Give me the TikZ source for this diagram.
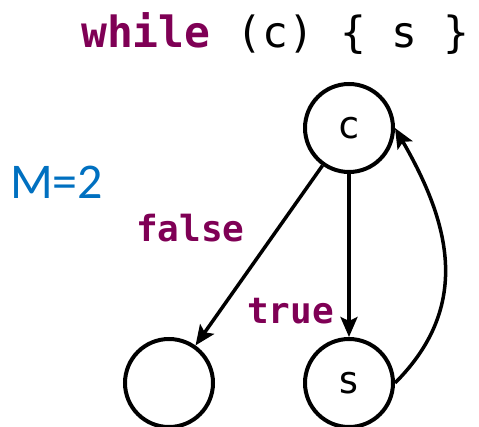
\documentclass[tikz,border=0pt]{standalone}
\usepackage{fontspec}
\setmonofont{DejaVu Sans Mono}
\newfontfamily\calib{Carlito}
\usetikzlibrary{arrows.meta}
\definecolor{kw}{HTML}{7F0055}
\definecolor{mblue}{HTML}{0070C0}
\tikzset{
  state/.style={circle,draw=black,line width=4pt,minimum size=88pt,inner sep=0pt,font=\fontsize{38}{40}\selectfont\ttfamily},
  edge/.style={line width=3.5pt,-{Stealth[length=20pt,width=17pt,inset=4pt]}},
  lbl/.style={inner sep=0pt,anchor=base west,text=kw,font=\fontsize{36}{40}\selectfont\ttfamily\bfseries}
}
\begin{document}
\begin{tikzpicture}[x=1pt,y=-1pt]
\useasboundingbox (0,0) rectangle (479,427);
\node[inner sep=0pt,anchor=base west,font=\fontsize{43}{44}\selectfont\ttfamily] (code) at (81,48) {\textcolor{kw}{\bfseries while} (c) \{ s \}};
\node[inner sep=0pt,anchor=base west,text=mblue,font=\fontsize{50}{54}\selectfont\calib] (m) at (10,199) {M=2};
\node[state] (c) at (349,128) {c};
\node[state] (s) at (349,383) {s};
\node[state] (e) at (169,383) {};
\draw[edge] (c) -- (e);
\draw[edge] (c) -- (s);
\draw[edge] (s.east) to[out=45,in=-60,looseness=1.1] (c.east);
\node[lbl] (f) at (136,242) {false};
\node[lbl] (t) at (247,324) {true};
\end{tikzpicture}
\end{document}
